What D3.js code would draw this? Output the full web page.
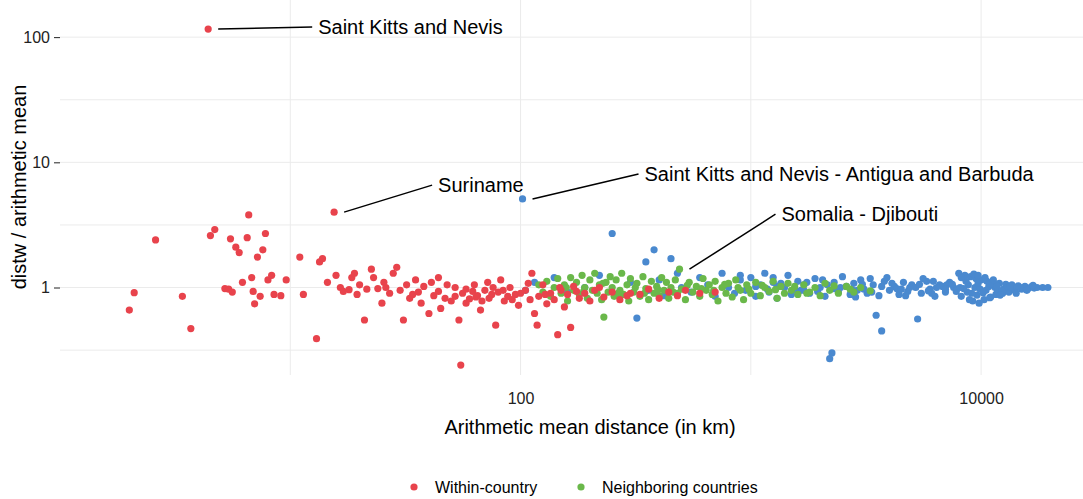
<!DOCTYPE html>
<html><head><meta charset="utf-8">
<script src="https://cdn.jsdelivr.net/npm/d3@7"></script>
<style>body{margin:0;background:#fff;font-family:"Liberation Sans",Arial,sans-serif}</style>
</head><body><svg id="c" width="1083" height="499"></svg>
<script>
// [arithmetic mean distance, distw / arithmetic mean]
const within = [[2.0,0.66],[2.1,0.91],[2.6,2.4],[3.4,0.85],[3.7,0.47],[4.4,116],[4.5,2.6],[4.7,2.9],[5.2,0.98],[5.4,0.97],[5.5,2.45],[5.6,0.92],[5.8,2.1],[6.0,1.9],[6.2,1.1],[6.5,2.5],[6.6,3.8],[6.8,1.2],[6.9,0.93],[7.0,0.74],[7.2,1.75],[7.4,0.85],[7.6,2.0],[7.8,2.7],[8.0,1.15],[8.3,1.25],[8.5,0.88],[9.1,0.86],[9.6,1.15],[11,1.75],[11.4,0.88],[13,0.39],[13.4,1.6],[13.8,1.7],[14.5,1.1],[15.5,4.0],[15.8,1.25],[16.5,1.0],[17,0.93],[18,0.96],[18.5,1.2],[19,1.3],[19.5,0.88],[20,1.05],[21,0.55],[21.5,0.97],[22.5,1.4],[23,1.2],[24,0.98],[25,0.75],[25.5,1.1],[26,1.0],[27,0.9],[28,1.3],[29,1.45],[30,0.95],[31,0.55],[32,1.05],[33,0.82],[34,0.88],[35,1.15],[36,0.92],[37,0.75],[38,1.02],[40,0.62],[41,1.1],[42,0.86],[44,0.93],[45,0.68],[47,0.82],[48,1.05],[50,0.78],[52,0.85],[54,0.55],[55,0.24],[56,0.9],[58,0.75],[60,0.81],[62,0.93],[63,1.05],[65,0.86],[67,0.66],[68,0.78],[70,0.95],[72,1.1],[73,0.82],[75,0.88],[78,0.5],[80,0.92],[82,1.15],[85,0.78],[88,0.85],[90,1.0],[95,0.88],[98,0.72],[105,0.95],[110,0.8],[112,1.3],[115,0.62],[118,0.5],[120,0.85],[125,1.05],[130,0.74],[135,0.9],[140,0.8],[145,0.42],[150,0.95],[155,0.7],[160,0.88],[165,0.48],[170,1.02],[180,0.82],[190,0.9],[200,0.78],[210,0.95],[230,0.84],[250,0.92],[270,0.8],[300,0.9],[330,0.88],[360,0.97],[400,0.82],[440,0.92],[480,0.86],[520,0.95],[600,0.9],[700,0.92],[44,1.2],[52,1.0],[58,0.97],[64,0.84],[76,1.0],[84,0.95],[92,0.8],[100,0.9],[108,1.08],[128,0.88],[148,1.0],[175,0.93],[220,1.0],[290,0.86]];
const neighbors = [[120,1.05],[125,0.92],[130,1.12],[135,0.85],[140,1.0],[145,1.18],[150,0.9],[155,1.05],[160,0.78],[165,1.2],[170,0.95],[175,1.1],[180,0.88],[185,1.25],[190,1.0],[195,0.82],[200,1.15],[205,0.95],[210,1.3],[215,0.9],[220,1.05],[225,0.8],[230,0.58],[235,1.1],[240,0.92],[245,1.22],[250,1.0],[255,0.85],[260,1.15],[270,0.95],[275,1.3],[280,0.88],[290,1.05],[295,0.78],[300,1.18],[310,0.92],[320,1.08],[330,0.85],[340,1.22],[350,0.98],[360,0.8],[370,1.12],[380,0.9],[390,1.02],[400,0.86],[410,1.2],[420,0.95],[430,1.1],[440,0.82],[450,1.0],[470,1.15],[480,0.9],[490,1.4],[500,0.97],[520,0.8],[540,1.1],[560,0.92],[580,1.02],[600,0.85],[620,1.18],[640,0.95],[660,1.05],[680,0.88],[700,1.12],[720,0.78],[750,1.0],[780,0.9],[800,1.08],[830,0.84],[860,1.15],[900,0.95],[930,0.8],[960,1.05],[1000,0.9],[1050,1.1],[1100,0.86],[1150,1.0],[1200,0.93],[1250,1.12],[1300,0.82],[1350,1.02],[1400,0.9],[1450,1.08],[1500,0.95],[1600,0.88],[1700,1.05],[1800,0.92],[1900,1.0],[2000,0.86],[2100,1.08],[2200,0.95],[2400,0.9],[2600,1.02],[2800,0.92],[3000,1.0],[3300,0.94],[158,1.0],[188,0.93],[228,1.08],[265,0.9],[315,1.0],[345,0.9],[395,0.96],[460,0.92],[530,1.04],[610,0.98],[690,0.95],[770,1.06],[880,1.0],[980,0.97],[1120,1.04],[1280,0.96],[1550,1.02],[1750,0.9],[2300,1.03],[2700,0.97]];
const others = [[102,5.1],[105,0.95],[115,1.1],[140,1.2],[160,0.92],[190,1.0],[220,1.25],[250,2.7],[270,0.88],[300,1.1],[320,0.57],[350,1.6],[360,0.95],[380,2.0],[400,1.15],[420,0.86],[450,1.7],[480,1.3],[500,1.0],[550,0.92],[600,1.2],[650,1.05],[700,0.85],[750,1.3],[800,1.0],[850,0.9],[900,1.15],[950,0.95],[1000,1.2],[1050,0.85],[1100,1.05],[1150,1.3],[1200,0.92],[1250,1.1],[1300,0.82],[1400,1.0],[1450,1.25],[1500,0.88],[1600,1.12],[1650,0.95],[1700,1.05],[1800,0.9],[1900,1.18],[2000,1.0],[2100,0.85],[2200,0.27],[2250,0.3],[2300,1.1],[2400,0.92],[2500,1.22],[2600,1.02],[2700,0.88],[2800,1.08],[2900,0.95],[3000,1.15],[3200,0.9],[3400,1.05],[3500,0.6],[3600,0.86],[3700,0.45],[3800,1.12],[4000,0.95],[4200,1.02],[4400,0.88],[4600,1.1],[4800,0.93],[5000,1.05],[5300,0.56],[5500,0.9],[5800,1.12],[6000,0.97],[6300,0.85],[6600,1.05],[7000,0.92],[7300,1.1],[7600,1.0],[8000,1.3],[8200,0.85],[8500,1.25],[8700,0.92],[9000,1.22],[9200,0.78],[9500,1.18],[9800,0.75],[10000,1.15],[10300,0.8],[10600,1.12],[11000,0.84],[11300,1.1],[11600,0.88],[12000,1.08],[12400,0.9],[12800,1.06],[13200,0.92],[13600,1.05],[14000,0.95],[14500,1.03],[15000,0.97],[15500,1.02],[16000,0.98],[16500,1.01],[17000,0.99],[17500,1.0],[18500,1.0],[19500,1.0],[9400,1.0],[10500,0.95],[11500,1.0],[12500,0.97],[7800,0.93],[6800,1.02],[5200,1.0],[4300,0.98],[3100,0.97],[2300,0.98],[1700,0.95],[1300,1.02],[9600,0.87],[8800,1.05],[10800,1.02],[13000,1.0],[15800,0.95],[16800,1.04],[14200,0.9],[11800,0.93],[9900,0.97],[8400,0.98],[7100,1.05],[6100,0.9],
  [1050,1.02],[1180,0.97],[1350,1.08],[1550,0.96],[1750,1.1],[1950,0.93],[2150,1.05],[2450,1.0],[2750,0.96],[3050,1.06],[3350,0.92],[3700,1.02],[4100,1.08],[4500,0.97],[4900,1.0],[5400,1.06],[5900,0.94],[6400,1.0],[7000,0.97],[7500,1.06],[8100,1.0],[8600,1.12],[9100,0.9],[9700,1.08],[10200,0.91],[10900,1.06],[11700,1.03],[12300,0.94],[13400,1.02],[14800,1.0],[9300,1.28],[9700,1.25],[10400,1.2],[10900,0.83],[11300,1.15],[12100,0.87],[8900,0.8],[8200,1.2],[6200,1.12],[5600,1.18],[4700,0.86],[3900,1.2],[3300,1.18],[2850,0.84],[2050,1.15],[1250,1.2],[900,1.25]];
const xTicks = [100, 10000];
const yTicks = [1, 10, 100];
const labels = [
  {p:[4.4,116], t:"Saint Kitts and Nevis", dx:110, dy:-2},
  {p:[15.5,4.0], t:"Suriname", dx:104, dy:-27},
  {p:[102,5.1], t:"Saint Kitts and Nevis - Antigua and Barbuda", dx:122, dy:-25},
  {p:[490,1.4], t:"Somalia - Djibouti", dx:102, dy:-55}
];

const svg = d3.select("#c");
const x = d3.scaleLog().domain([1, 27700]).range([60, 1083]);
const y = d3.scaleLog().domain([0.2, 198]).range([375, 0]);
const grid = svg.append("g").attr("stroke", "#ebebeb");
[10, 100, 1000, 10000].forEach(v => grid.append("line").attr("x1", x(v)).attr("x2", x(v)).attr("y1", 0).attr("y2", 375));
[0.316, 1, 3.16, 10, 31.6, 100].forEach(v => grid.append("line").attr("x1", 60).attr("x2", 1083).attr("y1", y(v)).attr("y2", y(v)));

const ya = svg.append("g").attr("transform", "translate(60,0)")
  .call(d3.axisLeft(y).tickValues(yTicks).tickFormat(d3.format("d")).tickSize(6).tickPadding(4));
ya.select(".domain").remove();
ya.selectAll("text").attr("font-size", 16).attr("fill", "#222").attr("font-family", "Liberation Sans, Arial");
ya.selectAll("line").attr("stroke", "#222");
const xa = svg.append("g").attr("transform", "translate(0,375)")
  .call(d3.axisBottom(x).tickValues(xTicks).tickFormat(d3.format("d")).tickSize(0).tickPadding(18));
xa.select(".domain").remove();
xa.selectAll("text").attr("font-size", 16).attr("fill", "#222").attr("font-family", "Liberation Sans, Arial");

const series = [[others, "#4a89cf"], [neighbors, "#6ab84a"], [within, "#e8434c"]];
series.forEach(([d, c]) => svg.append("g").selectAll("circle").data(d).join("circle")
  .attr("cx", p => x(p[0])).attr("cy", p => y(p[1])).attr("r", 3.6).attr("fill", c));

labels.forEach(l => {
  const px = x(l.p[0]), py = y(l.p[1]);
  svg.append("line").attr("x1", px + 10).attr("y1", py).attr("x2", px + l.dx - 6).attr("y2", py + l.dy)
    .attr("stroke", "#000").attr("stroke-width", 1.5);
  svg.append("text").attr("x", px + l.dx).attr("y", py + l.dy + 7).attr("font-size", 20).text(l.t);
});

svg.append("text").attr("x", 590).attr("y", 434).attr("text-anchor", "middle").attr("font-size", 20).text("Arithmetic mean distance (in km)");
svg.append("text").attr("transform", "translate(26,187) rotate(-90)").attr("text-anchor", "middle").attr("font-size", 20).text("distw / arithmetic mean");

const leg = [["Within-country", "#e8434c", 414], ["Neighboring countries", "#6ab84a", 581]];
leg.forEach(([t, c, lx]) => {
  svg.append("circle").attr("cx", lx).attr("cy", 487).attr("r", 3.6).attr("fill", c);
  svg.append("text").attr("x", lx + 21).attr("y", 493).attr("font-size", 16).text(t);
});
</script></body></html>
